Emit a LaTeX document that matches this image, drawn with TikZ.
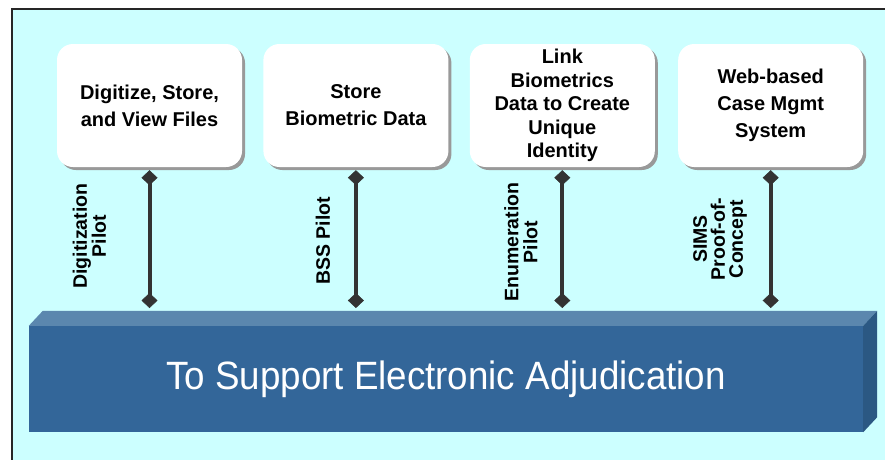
\documentclass[tikz,border=0pt]{standalone}
\usepackage{fontspec}
\setmainfont{Liberation Sans}
\newfontfamily\narrowsans[FakeStretch=0.93]{Liberation Sans}
\usetikzlibrary{positioning, shadows, arrows.meta}
\definecolor{bgcyan}{HTML}{CCFFFF}
\definecolor{barfront}{HTML}{336699}
\definecolor{bartopc}{HTML}{5B87AE}
\definecolor{barside}{HTML}{2B5883}
\definecolor{linkgray}{HTML}{333333}

\tikzset{
    goal/.style={fill=white, rounded corners=16pt, minimum width=185pt, minimum height=123pt,
        inner sep=0pt, align=center, font=\bfseries\fontsize{20}{27}\selectfont,
        drop shadow={shadow xshift=3pt, shadow yshift=-3pt, fill=black!40, opacity=1}},
    pilot/.style={rotate=90, align=center, inner sep=0pt, font=\bfseries\fontsize{19.5}{19}\selectfont},
    link/.style={>={Diamond[width=16pt,length=15pt,line width=0.5pt]}, <->, line width=4pt, draw=linkgray, fill=linkgray}
}

\begin{document}
\begin{tikzpicture}[x=1pt, y=-1pt]
        \useasboundingbox (0,0) rectangle (885,459);
        \draw[line width=1.7pt, draw=black!85, fill=bgcyan] (12,9) rectangle (900,475);

        % goals
        \node[goal] (digit) at (149.5,105.5) {Digitize, Store,\\and View Files};
        \node[goal, right=21pt of digit] (store) {Store\\Biometric Data};
        \node[goal, right=21pt of store, font=\bfseries\fontsize{20}{23.6}\selectfont] (ident)
        {Link\\Biometrics\\Data to Create\\Unique\\Identity};
        \node[goal, right=23pt of ident] (casemgmt) {Web-based\\Case Mgmt\\System};

        % bar
        \node[fill=barfront, minimum width=834pt, minimum height=106pt, inner sep=0pt,
              text=white, font=\narrowsans\fontsize{39.5}{44}\selectfont] (bar) at (446,379)
        {To Support Electronic Adjudication};
        \fill[bartopc] (bar.north west) -- ++(14,-15) -- ([shift={(14pt,15pt)}]bar.north east) -- (bar.north east) -- cycle;
        \fill[barside] (bar.north east) -- ++(14,-15) -- ([shift={(14pt,15pt)}]bar.south east) -- (bar.south east) -- cycle;
        \coordinate (barrim) at (0,311);

        % pilots
        \foreach \g in {digit, store, ident, casemgmt}
            \draw[link] ([yshift=-3pt]\g.south) -- ([yshift=3pt]\g.south |- barrim);

        \node[pilot] (digitpilot) at (89.5,236) {Digitization\\Pilot};
        \node[pilot] (bsspilot) at (323,241) {BSS Pilot};
        \node[pilot] (enumpilot) at (521,242) {Enumeration\\Pilot};
        \node[pilot, font=\bfseries\fontsize{19.5}{18}\selectfont] (simspoc) at (720,239) {SIMS\\Proof-of-\\Concept};
    \end{tikzpicture}
\end{document}
